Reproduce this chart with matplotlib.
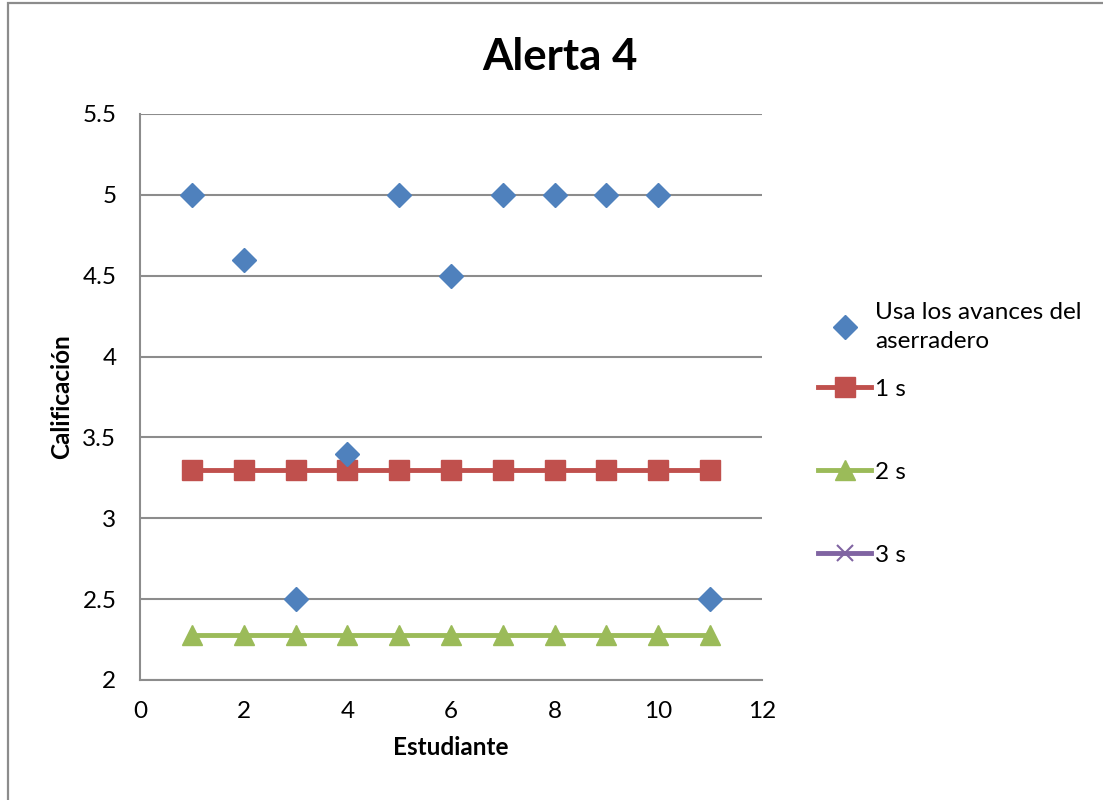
import matplotlib
matplotlib.use('Agg')
import matplotlib.pyplot as plt
from matplotlib.patches import Rectangle

plt.rcParams['font.family'] = ['Lato', 'DejaVu Sans']

# data
estudiantes = [1, 2, 3, 4, 5, 6, 7, 8, 9, 10, 11]
usa_avances = [5, 4.6, 2.5, 3.4, 5, 4.5, 5, 5, 5, 5, 2.5]
serie_1s = [3.3] * 11
serie_2s = [2.28] * 11
serie_3s = []  # no visible points in the plotted range

W, H = 1103, 800
fig = plt.figure(figsize=(W / 100, H / 100), dpi=100)

# outer chart border (clipped by the picture edge on right and bottom)
fig.patches.append(Rectangle((8 / W, -0.1), 1.2, (H - 3) / H + 0.1,
                             transform=fig.transFigure, fill=False,
                             edgecolor='#8c8c8c', linewidth=1.6))

ax = fig.add_axes([140 / W, 1 - 680 / H, (762 - 140) / W, (680 - 114) / H])

h_usa, = ax.plot(estudiantes, usa_avances, linestyle='none', marker='D',
                 markersize=12, color='#4F81BD',
                 label='Usa los avances del\naserradero', zorder=5)
h_1s, = ax.plot(estudiantes, serie_1s, color='#C0504D', linewidth=3.5,
                marker='s', markersize=14, label='1 s', zorder=3)
h_2s, = ax.plot(estudiantes, serie_2s, color='#9BBB59', linewidth=3.5,
                marker='^', markersize=15, label='2 s', zorder=3)
h_3s, = ax.plot(serie_3s, serie_3s, color='#8064A2', linewidth=3.5,
                marker='x', markersize=11, markeredgewidth=1.5, label='3 s',
                zorder=3)

ax.set_xlim(0, 12)
ax.set_ylim(2, 5.5)
ax.set_xticks(range(0, 13, 2))
ax.set_yticks([2, 2.5, 3, 3.5, 4, 4.5, 5, 5.5])
ax.set_yticklabels(['2', '2.5', '3', '3.5', '4', '4.5', '5', '5.5'])
ax.grid(axis='y', color='#8c8c8c', linewidth=1.5)
ax.set_axisbelow(True)
for s in ['top', 'right']:
    ax.spines[s].set_visible(False)
for s in ['left', 'bottom']:
    ax.spines[s].set_color('#8c8c8c')
    ax.spines[s].set_linewidth(1.5)
ax.tick_params(axis='both', length=0, labelsize=17.5)
ax.tick_params(axis='y', pad=17)
ax.tick_params(axis='x', pad=15)

ax.set_xlabel('Estudiante', fontsize=17.5, fontweight='bold', labelpad=10)
ax.set_ylabel('Calificación', fontsize=17.5, fontweight='bold', labelpad=7)

fig.text(560 / W, 1 - 57 / H, 'Alerta 4', fontsize=31.5, fontweight='bold',
         ha='center', va='center')

leg1 = ax.legend(handles=[h_usa], loc='upper left',
                 bbox_to_anchor=(796 / W, 1 - 280 / H),
                 bbox_transform=fig.transFigure, frameon=False,
                 fontsize=17.5, handlelength=2.2, handletextpad=0.15)
for t in leg1.get_texts():
    t.set_linespacing(1.45)
ax.add_artist(leg1)
ax.legend(handles=[h_1s, h_2s, h_3s], loc='upper left',
          bbox_to_anchor=(796 / W, 1 - 357 / H),
          bbox_transform=fig.transFigure, frameon=False, fontsize=17.5,
          handlelength=2.2, handletextpad=0.15, labelspacing=2.55)

fig.savefig('out.png', dpi=100)
